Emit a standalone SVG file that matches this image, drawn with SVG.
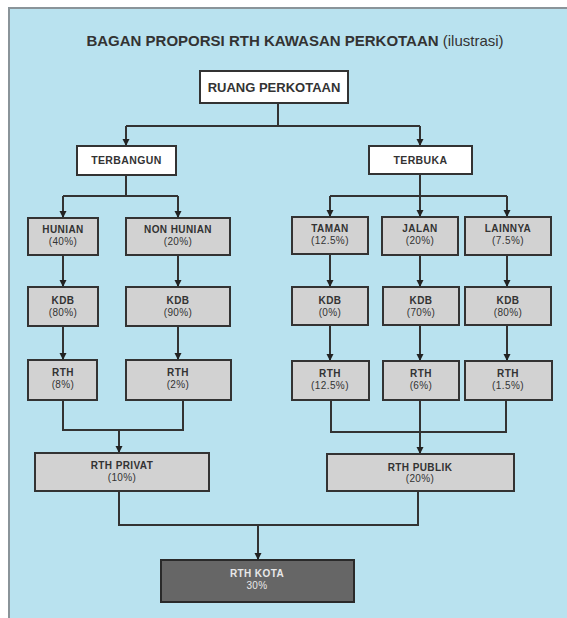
<svg xmlns="http://www.w3.org/2000/svg" width="567" height="618" viewBox="0 0 567 618">
<defs>
<style>
.bg{fill:#b9e2ef}
.frame{fill:none;stroke:#8a9499;stroke-width:2}
.wbox{fill:#ffffff;stroke:#333;stroke-width:2}
.gbox{fill:#d2d2d2;stroke:#333;stroke-width:2}
.dbox{fill:#666666;stroke:#2a2a2a;stroke-width:2}
.t{font-family:"Liberation Sans",Arial,sans-serif;text-anchor:middle;fill:#333}
.b{font-weight:bold}
.s{font-size:10px;letter-spacing:0.4px}
.lt{fill:#e8e8e8}
.c{fill:none;stroke:#333;stroke-width:2}
</style>
<marker id="ah" markerUnits="userSpaceOnUse" markerWidth="8" markerHeight="8" refX="7" refY="4" orient="auto">
<path d="M0,0.5 L7,4 L0,7.5 z" fill="#222"/>
</marker>
</defs>
<rect x="0" y="0" width="567" height="618" fill="#ffffff"/>
<rect class="bg" x="9" y="8" width="560" height="612"/>
<path class="frame" d="M9,620 V8 H569"/>
<text class="t b" x="295" y="46" font-size="15" fill="#222">BAGAN PROPORSI RTH KAWASAN PERKOTAAN <tspan font-weight="normal">(ilustrasi)</tspan></text>

<g id="connectors">
<path class="c" d="M278,103 V126 M126,126 H420"/>
<path class="c" d="M126,126 V146" marker-end="url(#ah)"/>
<path class="c" d="M420,126 V146" marker-end="url(#ah)"/>
<path class="c" d="M126,175 V196 M63,196 H178"/>
<path class="c" d="M63,196 V218" marker-end="url(#ah)"/>
<path class="c" d="M178,196 V218" marker-end="url(#ah)"/>
<path class="c" d="M420,174 V196 M330,196 H507"/>
<path class="c" d="M330,196 V217" marker-end="url(#ah)"/>
<path class="c" d="M420,196 V217" marker-end="url(#ah)"/>
<path class="c" d="M507,196 V217" marker-end="url(#ah)"/>
<path class="c" d="M63,255 V287" marker-end="url(#ah)"/>
<path class="c" d="M178,255 V287" marker-end="url(#ah)"/>
<path class="c" d="M330,254 V287" marker-end="url(#ah)"/>
<path class="c" d="M420,255 V287" marker-end="url(#ah)"/>
<path class="c" d="M507,255 V287" marker-end="url(#ah)"/>
<path class="c" d="M63,326 V360" marker-end="url(#ah)"/>
<path class="c" d="M178,326 V360" marker-end="url(#ah)"/>
<path class="c" d="M330,325 V361" marker-end="url(#ah)"/>
<path class="c" d="M420,325 V361" marker-end="url(#ah)"/>
<path class="c" d="M507,325 V361" marker-end="url(#ah)"/>
<path class="c" d="M63,400 V430 H183 V400"/>
<path class="c" d="M119,430 V453" marker-end="url(#ah)"/>
<path class="c" d="M331,400 V432 H506 V400"/>
<path class="c" d="M420,400 V454" marker-end="url(#ah)"/>
<path class="c" d="M119,491 V525 H418 V491"/>
<path class="c" d="M258,525 V560" marker-end="url(#ah)"/>
</g>

<g id="ruang-perkotaan"><rect class="wbox" x="200" y="71" width="148" height="32"/><text class="t b" x="274" y="92" font-size="13" fill="#222">RUANG PERKOTAAN</text></g>
<g id="terbangun"><rect class="wbox" x="77" y="146" width="99" height="29"/><text class="t b" x="126.5" y="164" font-size="10.5" letter-spacing="0.4">TERBANGUN</text></g>
<g id="terbuka"><rect class="wbox" x="369" y="146" width="103" height="28"/><text class="t b" x="420.5" y="164" font-size="10.5" letter-spacing="0.4">TERBUKA</text></g>

<g id="hunian"><rect class="gbox" x="28" y="218" width="70" height="37"/><text class="t s" x="63" y="233"><tspan class="b">HUNIAN</tspan><tspan x="63" y="245">(40%)</tspan></text></g>
<g id="non-hunian"><rect class="gbox" x="126" y="218" width="104" height="37"/><text class="t s" x="178" y="233"><tspan class="b">NON HUNIAN</tspan><tspan x="178" y="245">(20%)</tspan></text></g>
<g id="taman"><rect class="gbox" x="292" y="217" width="76" height="37"/><text class="t s" x="330" y="232"><tspan class="b">TAMAN</tspan><tspan x="330" y="244">(12.5%)</tspan></text></g>
<g id="jalan"><rect class="gbox" x="382" y="217" width="76" height="38"/><text class="t s" x="420" y="232"><tspan class="b">JALAN</tspan><tspan x="420" y="244">(20%)</tspan></text></g>
<g id="lainnya"><rect class="gbox" x="465" y="217" width="86" height="38"/><text class="t s" x="508" y="232"><tspan class="b">LAINNYA</tspan><tspan x="508" y="244">(7.5%)</tspan></text></g>

<g id="kdb-hunian"><rect class="gbox" x="28" y="287" width="70" height="39"/><text class="t s" x="63" y="304"><tspan class="b">KDB</tspan><tspan x="63" y="316">(80%)</tspan></text></g>
<g id="kdb-non-hunian"><rect class="gbox" x="126" y="287" width="104" height="39"/><text class="t s" x="178" y="304"><tspan class="b">KDB</tspan><tspan x="178" y="316">(90%)</tspan></text></g>
<g id="kdb-taman"><rect class="gbox" x="292" y="287" width="76" height="38"/><text class="t s" x="330" y="304"><tspan class="b">KDB</tspan><tspan x="330" y="316">(0%)</tspan></text></g>
<g id="kdb-jalan"><rect class="gbox" x="383" y="287" width="76" height="38"/><text class="t s" x="421" y="304"><tspan class="b">KDB</tspan><tspan x="421" y="316">(70%)</tspan></text></g>
<g id="kdb-lainnya"><rect class="gbox" x="465" y="287" width="86" height="38"/><text class="t s" x="508" y="304"><tspan class="b">KDB</tspan><tspan x="508" y="316">(80%)</tspan></text></g>

<g id="rth-hunian"><rect class="gbox" x="28" y="360" width="69" height="40"/><text class="t s" x="63" y="376"><tspan class="b">RTH</tspan><tspan x="63" y="388">(8%)</tspan></text></g>
<g id="rth-non-hunian"><rect class="gbox" x="126" y="360" width="105" height="40"/><text class="t s" x="178" y="376"><tspan class="b">RTH</tspan><tspan x="178" y="388">(2%)</tspan></text></g>
<g id="rth-taman"><rect class="gbox" x="292" y="361" width="77" height="39"/><text class="t s" x="330" y="377"><tspan class="b">RTH</tspan><tspan x="330" y="389">(12.5%)</tspan></text></g>
<g id="rth-jalan"><rect class="gbox" x="383" y="361" width="76" height="39"/><text class="t s" x="421" y="377"><tspan class="b">RTH</tspan><tspan x="421" y="389">(6%)</tspan></text></g>
<g id="rth-lainnya"><rect class="gbox" x="465" y="361" width="87" height="39"/><text class="t s" x="508" y="377"><tspan class="b">RTH</tspan><tspan x="508" y="389">(1.5%)</tspan></text></g>

<g id="rth-privat"><rect class="gbox" x="35" y="453" width="174" height="38"/><text class="t s" x="122" y="469"><tspan class="b">RTH PRIVAT</tspan><tspan x="122" y="481">(10%)</tspan></text></g>
<g id="rth-publik"><rect class="gbox" x="327" y="454" width="187" height="37"/><text class="t s" x="420" y="471"><tspan class="b">RTH PUBLIK</tspan><tspan x="420" y="482">(20%)</tspan></text></g>
<g id="rth-kota"><rect class="dbox" x="161" y="560" width="193" height="42"/><text class="t s lt" x="257" y="577"><tspan class="b">RTH KOTA</tspan><tspan x="257" y="589">30%</tspan></text></g>
</svg>
